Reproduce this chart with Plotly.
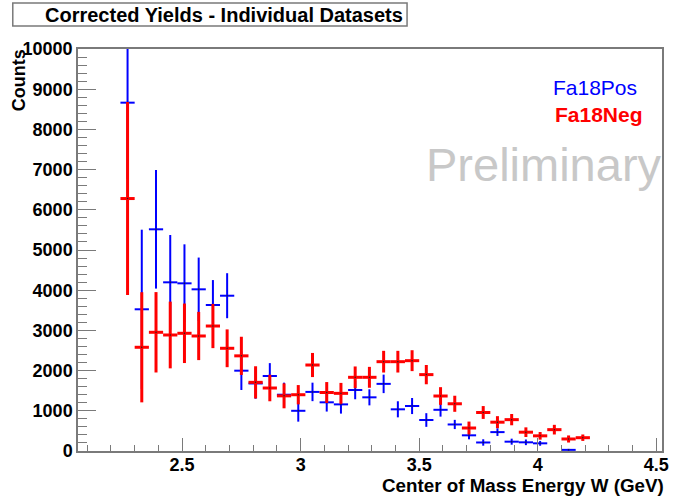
import plotly.graph_objects as go

# Bin centres of the W histogram (GeV)
w_centers = [2.27, 2.33, 2.39, 2.45, 2.51, 2.57, 2.63, 2.69, 2.75, 2.81, 2.87,
             2.93, 2.99, 3.05, 3.11, 3.17, 3.23, 3.29, 3.35, 3.41, 3.47, 3.53,
             3.59, 3.65, 3.71, 3.77, 3.83, 3.89, 3.95, 4.01, 4.07, 4.13, 4.19]
bin_half_width = 0.03

# Fa18Pos corrected yields and uncertainties
pos_counts = [8665, 3525, 5515, 4196, 4171, 4022, 3632, 3863, 1998, 1680, 1866,
              1400, 1000, 1470, 1211, 1160, 1517, 1335, 1670, 1037, 1119, 771,
              1025, 660, 390, 212, 470, 232, 216, 191, None, 28, None]
pos_err = [1900, 1980, 1475, 1177, 970, 790, 620, 560, 480, 380, 320,
           300, 270, 230, 230, 230, 230, 200, 230, 200, 200, 170,
           170, 115, 100, 80, 95, 75, 70, 60, None, 25, None]

# Fa18Neg corrected yields and uncertainties
neg_counts = [6280, 2580, 2953, 2886, 2928, 2861, 3109, 2555, 2367, 1708, 1567,
              1372, 1400, 2139, 1455, 1434, 1833, 1833, 2222, 2222, 2247, 1900,
              1368, 1175, 572, 958, 717, 780, 468, 377, 531, 299, 331]
neg_err = [2400, 1370, 1000, 830, 740, 600, 550, 470, 475, 400, 330,
           310, 240, 300, 260, 260, 270, 260, 270, 270, 260, 240,
           220, 200, 160, 160, 150, 140, 120, 95, 120, 88, 80]

BLUE = "#0000ff"
RED = "#ff0000"
AXIS_GREY = "#7a7a7a"
FONT = "Liberation Sans"

L, R, T, B = 78, 5, 49, 45
W, H = 674, 496
PW, PH = W - L - R, H - T - B


def px_x(x):
    return (x - L) / PW


def px_y(y):
    return (H - B - y) / PH


def hist_trace(name, counts, errs, color, thick):
    return go.Scatter(
        x=w_centers, y=counts, name=name, mode="markers",
        marker=dict(size=1.5, color="#202020", line=dict(width=0)),
        error_y=dict(type="data", array=errs, width=0, thickness=thick, color=color),
        error_x=dict(type="constant", value=bin_half_width, width=0,
                     thickness=thick, color=color),
        showlegend=False, hoverinfo="x+y",
    )


fig = go.Figure()
fig.add_trace(hist_trace("Fa18Pos", pos_counts, pos_err, BLUE, 2))
fig.add_trace(hist_trace("Fa18Neg", neg_counts, neg_err, RED, 3))

fig.update_layout(
    width=W, height=H,
    margin=dict(l=L, r=R, t=T, b=B, pad=0),
    paper_bgcolor="white", plot_bgcolor="white",
    font=dict(family=FONT, color="black"),
    xaxis=dict(
        range=[2.061, 4.524], dtick=0.5, tick0=0,
        ticks="inside", ticklen=13, tickwidth=1, tickcolor=AXIS_GREY,
        showline=True, linecolor=AXIS_GREY, linewidth=1.5, mirror=True,
        showgrid=False, zeroline=False, ticklabelstandoff=-3,
        tickfont=dict(family=FONT, size=18, weight="bold", color="black"),
        minor=dict(dtick=0.1, ticks="inside", ticklen=6, tickwidth=1,
                   tickcolor=AXIS_GREY, showgrid=False),
    ),
    yaxis=dict(
        range=[0, 10000], dtick=1000, tick0=0, tickformat="d",
        ticks="inside", ticklen=18, tickwidth=1, tickcolor=AXIS_GREY,
        showline=True, linecolor=AXIS_GREY, linewidth=1.5, mirror=True,
        showgrid=False, zeroline=False,
        tickfont=dict(family=FONT, size=18, weight="bold", color="black"),
        minor=dict(dtick=200, ticks="inside", ticklen=9, tickwidth=1,
                   tickcolor=AXIS_GREY, showgrid=False),
    ),
)

# Title box
fig.add_shape(type="rect", xref="paper", yref="paper",
              x0=px_x(12), x1=px_x(411), y0=px_y(26), y1=px_y(3),
              line=dict(color=AXIS_GREY, width=1.5), fillcolor="white", layer="above")

annotations = [
    dict(text="Corrected Yields - Individual Datasets", x=px_x(226), y=px_y(15),
         xanchor="center", yanchor="middle",
         font=dict(size=20, weight="bold", family=FONT, color="black")),
    dict(text="Counts", x=px_x(18.5), y=px_y(47), textangle=-90,
         xanchor="center", yanchor="top",
         font=dict(size=18, weight="bold", family=FONT, color="black")),
    dict(text="Center of Mass Energy W (GeV)", x=px_x(673), y=px_y(485),
         xanchor="right", yanchor="middle",
         font=dict(size=18.8, weight="bold", family=FONT, color="black")),
    dict(text="Fa18Pos", x=px_x(646), y=px_y(87), xanchor="right", yanchor="middle",
         font=dict(size=21, family=FONT, color=BLUE)),
    dict(text="Fa18Neg", x=px_x(652), y=px_y(114), xanchor="right", yanchor="middle",
         font=dict(size=21, weight="bold", family=FONT, color=RED)),
    dict(text="Preliminary", x=px_x(671), y=px_y(164), xanchor="right", yanchor="middle",
         font=dict(size=47, family=FONT, color="#c8c8c8")),
]
for a in annotations:
    a.update(xref="paper", yref="paper", showarrow=False)
    fig.add_annotation(**a)

fig.write_html("out.html")
